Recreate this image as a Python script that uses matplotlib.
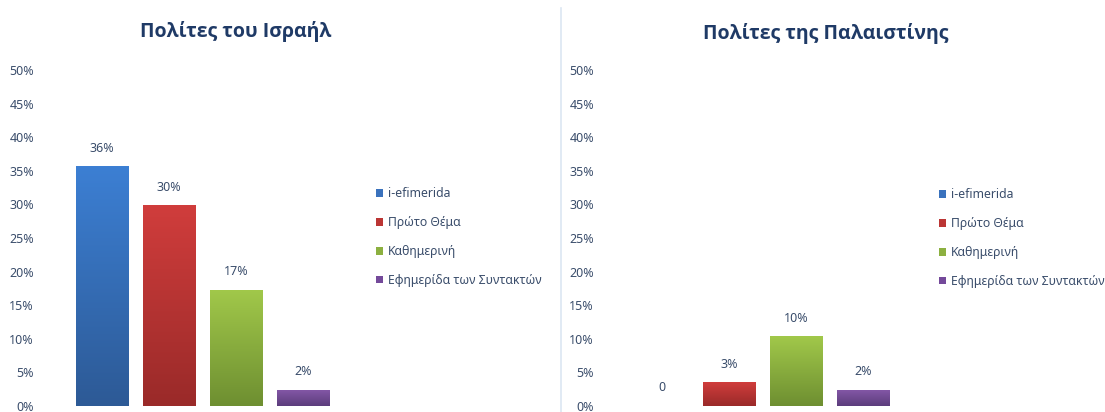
import numpy as np
import matplotlib
matplotlib.use("Agg")
from matplotlib import pyplot as plt
from matplotlib.colors import LinearSegmentedColormap

plt.rcParams["font.family"] = ["Noto Sans", "DejaVu Sans"]

# data
series_names = ["i-efimerida", "Πρώτο Θέμα", "Καθημερινή", "Εφημερίδα των Συντακτών"]
israel_values = [0.357, 0.299, 0.173, 0.024]
israel_labels = ["36%", "30%", "17%", "2%"]
palestine_values = [0.0, 0.035, 0.104, 0.024]
palestine_labels = ["0", "3%", "10%", "2%"]
titles = ["Πολίτες του Ισραήλ", "Πολίτες της Παλαιστίνης"]
yticks = [0, 0.05, 0.10, 0.15, 0.20, 0.25, 0.30, 0.35, 0.40, 0.45, 0.50]

# (top colour, bottom colour)
bar_colors = [("#3c7fd3", "#2d5a96"), ("#d03d3c", "#9a2a29"),
              ("#a1c84a", "#6e8f31"), ("#8558a8", "#5c3d7c")]
mid_colors = ["#3a72bd", "#bb3534", "#8cb040", "#74499a"]

W, H = 1105, 412
text_col = "#3a4d6b"
title_col = "#1f3a66"


def px_box(left, right, bottom, top):
  return [left / W, 1 - bottom / H, (right - left) / W, (bottom - top) / H]


def draw_panel(ax, values, labels, title, title_x, title_y, legend_x, legend_y, xmax):
  x = np.arange(len(values))
  bars = ax.bar(x, values, width=0.79, color=mid_colors, linewidth=0, zorder=2)
  for b, (ctop, cbot), v in zip(bars, bar_colors, values):
    if v <= 0:
      continue
    cmap = LinearSegmentedColormap.from_list("g", [cbot, ctop])
    grad = np.linspace(0, 1, 100).reshape(-1, 1)
    x0 = b.get_x()
    im = ax.imshow(grad, cmap=cmap, origin="lower", aspect="auto",
                   extent=[x0, x0 + b.get_width(), 0, v], zorder=3)
    im.set_clip_path(b)
  for xi, v, lab in zip(x, values, labels):
    ax.annotate(lab, (xi, v), xytext=(0, 13), textcoords="offset points",
                ha="center", va="center", fontsize=9, color=text_col)
  ax.set_xlim(-0.851, xmax)
  ax.set_ylim(0, 0.5)
  ax.set_yticks(yticks)
  ax.set_yticklabels([f"{int(round(t * 100))}%" for t in yticks])
  ax.set_xticks([])
  ax.tick_params(axis="y", length=0, pad=8, labelsize=9, labelcolor=text_col)
  for s in ax.spines.values():
    s.set_visible(False)
  ax.figure.text(title_x / W, 1 - title_y / H, title, ha="center", va="center",
                 fontsize=14, fontweight="bold", color=title_col,
                 family=["Open Sans", "DejaVu Sans"])
  ax.legend(bars, series_names, loc="center left",
            bbox_to_anchor=(legend_x / W, 1 - legend_y / H),
            bbox_transform=ax.figure.transFigure, frameon=False,
            fontsize=8.8, handlelength=0.6, handleheight=0.6,
            handletextpad=0.35, labelspacing=1.3, borderpad=0,
            borderaxespad=0, labelcolor=text_col)


fig = plt.figure(figsize=(W / 100, H / 100), dpi=100)

ax1 = fig.add_axes(px_box(45, 360, 406, 70))
draw_panel(ax1, israel_values, israel_labels, titles[0], 236, 31, 376, 237, 3.85)

ax2 = fig.add_axes(px_box(605, 930, 406, 70))
draw_panel(ax2, palestine_values, palestine_labels, titles[1], 826, 34, 939, 238, 4.0)

# divider between the two charts
fig.add_artist(plt.Line2D([561 / W, 561 / W], [0, 1 - 8 / H], color="#dce6f2",
                          linewidth=1.2))

fig.savefig("out.png", dpi=100)
